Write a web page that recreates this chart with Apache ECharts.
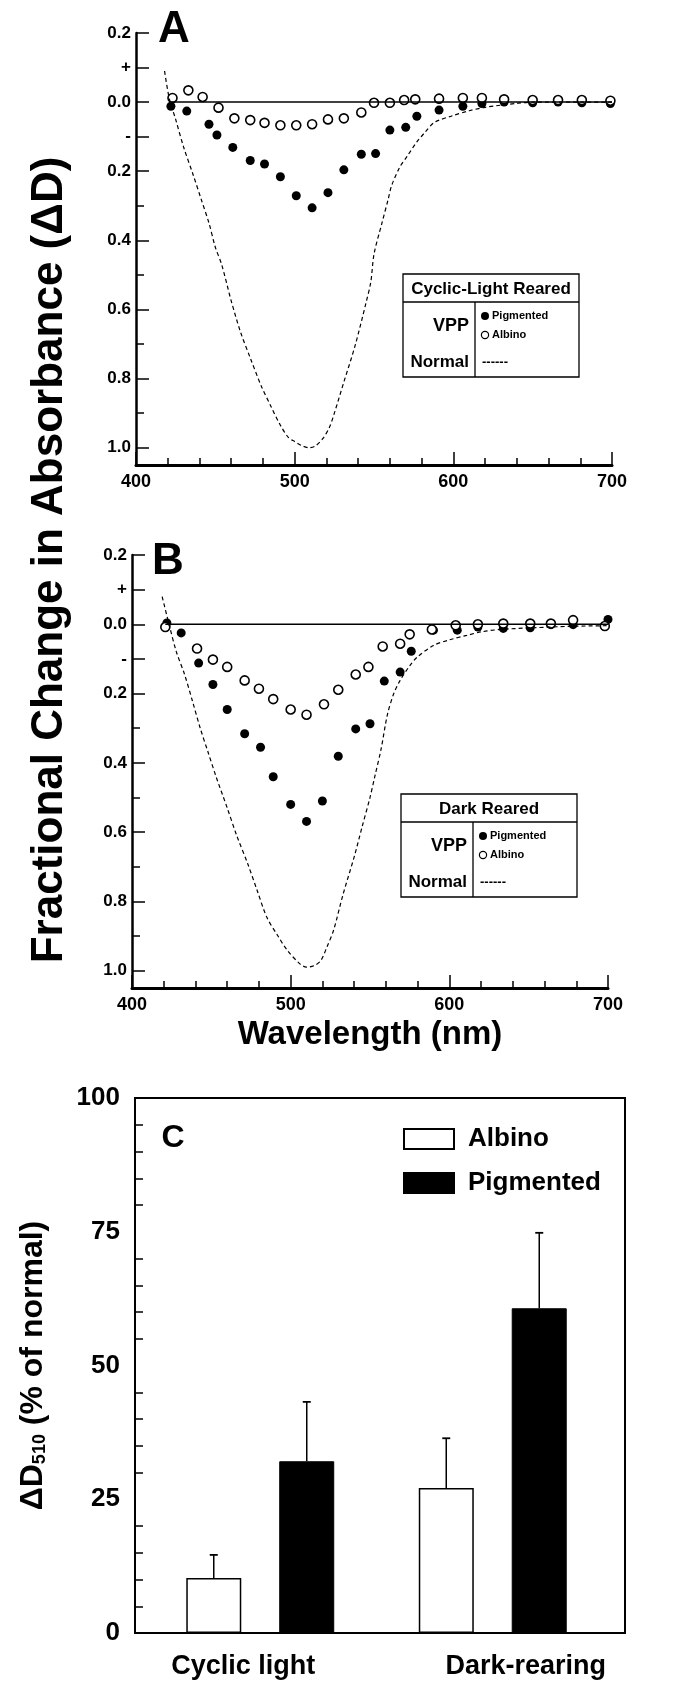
<!DOCTYPE html>
<html>
<head>
<meta charset="utf-8">
<script src="https://cdn.jsdelivr.net/npm/echarts@6/dist/echarts.min.js"></script>
<style>
  html, body { margin: 0; padding: 0; background: #fff; }
  #chart { width: 677px; height: 1682px; }
</style>
</head>
<body>
<div id="chart"></div>
<script>
// ---- data ----
// panel A: cyclic-light reared, [wavelength nm, fractional change]
const normalA = [[418, -0.09], [421, -0.01], [425, 0.05], [430, 0.13], [436, 0.21], [441, 0.28], [446, 0.35], [450, 0.42],
    [454, 0.47], [460, 0.575], [466, 0.667], [472, 0.74], [479, 0.822], [485, 0.88], [491, 0.935], [496, 0.97], [500, 0.982],
    [505, 0.995], [509, 1.0], [513, 0.995], [518, 0.972], [522, 0.94], [525, 0.9], [531, 0.81], [538, 0.706], [545, 0.58],
    [548, 0.52], [550, 0.44], [555, 0.35], [559, 0.28], [561, 0.243], [566, 0.19], [571, 0.156], [577, 0.115], [582, 0.088],
    [588, 0.059], [599, 0.04], [610, 0.025], [620, 0.015], [641, 0.003], [651, 0], [700, 0]]
const pigA = [[422, 0.012], [432, 0.026], [446, 0.064], [451, 0.095], [461, 0.131], [472, 0.169], [481, 0.179], [491, 0.216],
    [501, 0.271], [511, 0.306], [521, 0.262], [531, 0.196], [542, 0.151], [551, 0.149], [560, 0.081], [570, 0.073],
    [577, 0.041], [591, 0.023], [606, 0.012], [618, 0.004], [632, 0], [650, 0.002], [666, 0], [681, 0.002], [699, 0.004]]
const albA = [[423, -0.012], [433, -0.034], [442, -0.015], [452, 0.016], [462, 0.047], [472, 0.052], [481, 0.06], [491, 0.067],
    [501, 0.067], [511, 0.064], [521, 0.05], [531, 0.047], [542, 0.03], [550, 0.002], [560, 0.002], [569, -0.006],
    [576, -0.008], [591, -0.01], [606, -0.012], [618, -0.012], [632, -0.008], [650, -0.006], [666, -0.006], [681, -0.006], [699, -0.004]]

// panel B: dark reared
const normalB = [[419, -0.08], [423.5, 0.003], [428, 0.08], [433, 0.143], [438, 0.22], [443, 0.3], [448, 0.37], [453, 0.44],
    [460, 0.53], [466, 0.61], [473, 0.692], [479, 0.77], [485, 0.846], [492, 0.9], [498, 0.942], [506, 0.981], [510, 0.99],
    [515, 0.985], [519, 0.971], [523, 0.93], [527, 0.884], [533, 0.78], [540, 0.672], [545, 0.585], [550, 0.5], [553, 0.44],
    [557, 0.36], [561, 0.26], [565, 0.2], [569, 0.162], [575, 0.12], [580, 0.094], [590, 0.061], [600, 0.045], [611, 0.032],
    [620, 0.022], [632, 0.015], [653, 0.01], [676, 0.006], [700, 0.004]]
const pigB = [[422, -0.004], [431, 0.025], [442, 0.112], [451, 0.174], [460, 0.246], [471, 0.316], [481, 0.355], [489, 0.44],
    [500, 0.52], [510, 0.569], [520, 0.51], [530, 0.381], [541, 0.302], [550, 0.287], [559, 0.164], [569, 0.138],
    [576, 0.078], [590, 0.017], [605, 0.017], [618, 0.008], [634, 0.012], [651, 0.01], [664, 0.001], [678, 0.001], [700, -0.014]]
const albB = [[421, 0.008], [441, 0.07], [451, 0.102], [460, 0.123], [471, 0.162], [480, 0.186], [489, 0.216], [500, 0.246],
    [510, 0.261], [521, 0.231], [530, 0.189], [541, 0.145], [549, 0.123], [558, 0.064], [569, 0.056], [575, 0.029],
    [589, 0.015], [604, 0.003], [618, 0], [634, -0.002], [651, -0.002], [664, -0.002], [678, -0.012], [698, 0.005]]

// zero reference line
const baseline = [[421, 0], [700, 0]]

// tick labels of the absorbance axes (top "0.2" is the positive side)
const yTickVals = [-0.2, -0.1, 0, 0.1, 0.2, 0.4, 0.6, 0.8, 1.0]
const yTickText = ['0.2', '+', '0.0', '-', '0.2', '0.4', '0.6', '0.8', '1.0']
const yMinorVals = [0.3, 0.5, 0.7, 0.9]

// panel C
const groups = ['Cyclic light', 'Dark-rearing']
const albino = [10.3, 27.1]
const albinoErr = [4.3, 9.3]
const pigmented = [32.1, 60.7]
const pigmentedErr = [11.1, 14.1]

// ---- chart ----
const FONT = 'Liberation Sans, Arial, sans-serif'
const BAR_W = 55
const BAR_GAP = 38

const myChart = echarts.init(document.getElementById('chart'))

function tickLabel(v) {
    const i = yTickVals.findIndex(t => Math.abs(t - v) < 1e-6)
    return i < 0 ? '' : yTickText[i]
}

function wavelengthAxis(gridIndex, extra) {
    return Object.assign({
        gridIndex: gridIndex,
        type: 'value',
        min: 400,
        max: 700,
        interval: 100,
        axisLine: { onZero: false, lineStyle: { color: '#000', width: 3 } },
        axisTick: { inside: true, length: 13, lineStyle: { color: '#000', width: 1.5 } },
        minorTick: { show: true, splitNumber: 5, length: 7, lineStyle: { color: '#000', width: 1.5 } },
        axisLabel: { color: '#000', fontSize: 18, fontWeight: 'bold', fontFamily: FONT, margin: 8 },
        splitLine: { show: false },
        minorSplitLine: { show: false }
    }, extra || {})
}

function absorbAxis(gridIndex) {
    return {
        gridIndex: gridIndex,
        type: 'value',
        inverse: true,
        min: -0.2,
        max: 1.05,
        axisLine: { onZero: false, lineStyle: { color: '#000', width: 2.5 } },
        axisTick: { inside: true, length: 13, customValues: yTickVals, lineStyle: { color: '#000', width: 1.5 } },
        axisLabel: {
            customValues: yTickVals, formatter: tickLabel, color: '#000',
            fontSize: 17, fontWeight: 'bold', fontFamily: FONT, margin: 5
        },
        splitLine: { show: false }
    }
}

function absorbMinorAxis(gridIndex) {
    return {
        gridIndex: gridIndex,
        type: 'value',
        inverse: true,
        min: -0.2,
        max: 1.05,
        position: 'left',
        axisLine: { show: false, onZero: false },
        axisTick: { inside: true, length: 8, customValues: yMinorVals, lineStyle: { color: '#000', width: 1.5 } },
        axisLabel: { show: false },
        splitLine: { show: false }
    }
}

function spectraSeries(tag, xi, yi, normal, pig, alb) {
    return [
        {
            name: 'Normal ' + tag, type: 'line', xAxisIndex: xi, yAxisIndex: yi,
            data: normal, smooth: 0.3, symbol: 'none', silent: true,
            lineStyle: { color: '#000', width: 1.2, type: [4, 3] }
        },
        {
            name: 'Baseline ' + tag, type: 'line', xAxisIndex: xi, yAxisIndex: yi,
            data: baseline, symbol: 'none', silent: true,
            lineStyle: { color: '#000', width: 1.5 }
        },
        {
            name: 'VPP pigmented ' + tag, type: 'scatter', xAxisIndex: xi, yAxisIndex: yi,
            data: pig, symbol: 'circle', symbolSize: 9,
            itemStyle: { color: '#000', opacity: 1 }
        },
        {
            name: 'VPP albino ' + tag, type: 'scatter', xAxisIndex: xi, yAxisIndex: yi,
            data: alb, symbol: 'circle', symbolSize: 9,
            itemStyle: { color: '#fff', borderColor: '#000', borderWidth: 1.6, opacity: 1 }
        }
    ]
}

// the small boxed key inside panels A and B
function keyBox(x0, y0, title) {
    const bold = s => 'bold ' + s + 'px ' + FONT
    return {
        type: 'group', x: x0, y: y0, z: 50,
        children: [
            { type: 'rect', shape: { x: 0, y: 0, width: 176, height: 103 }, style: { fill: '#fff', stroke: '#000', lineWidth: 1.3 } },
            { type: 'line', shape: { x1: 0, y1: 28, x2: 176, y2: 28 }, style: { stroke: '#000', lineWidth: 1.3 } },
            { type: 'line', shape: { x1: 72, y1: 28, x2: 72, y2: 103 }, style: { stroke: '#000', lineWidth: 1.3 } },
            { type: 'text', x: 88, y: 15, style: { text: title, font: bold(17), fill: '#000', align: 'center', verticalAlign: 'middle' } },
            { type: 'text', x: 66, y: 52, style: { text: 'VPP', font: bold(18), fill: '#000', align: 'right', verticalAlign: 'middle' } },
            { type: 'text', x: 66, y: 88, style: { text: 'Normal', font: bold(17), fill: '#000', align: 'right', verticalAlign: 'middle' } },
            { type: 'circle', shape: { cx: 82, cy: 42, r: 4 }, style: { fill: '#000' } },
            { type: 'circle', shape: { cx: 82, cy: 61, r: 3.6 }, style: { fill: '#fff', stroke: '#000', lineWidth: 1.2 } },
            { type: 'text', x: 89, y: 42, style: { text: 'Pigmented', font: bold(11), fill: '#000', align: 'left', verticalAlign: 'middle' } },
            { type: 'text', x: 89, y: 61, style: { text: 'Albino', font: bold(11), fill: '#000', align: 'left', verticalAlign: 'middle' } },
            { type: 'text', x: 79, y: 88, style: { text: '------', font: bold(13), fill: '#000', align: 'left', verticalAlign: 'middle' } }
        ]
    }
}

function panelLetter(letter, x, y, size) {
    return {
        type: 'text', x: x, y: y, z: 50,
        style: { text: letter, font: 'bold ' + size + 'px ' + FONT, fill: '#000', align: 'center', verticalAlign: 'middle' }
    }
}

// error bars on top of the panel C bars
function errorSeries(name, values, errs, shift) {
    return {
        name: name + ' error', type: 'custom', xAxisIndex: 2, yAxisIndex: 4, z: 5,
        data: values.map((v, i) => [i, v, errs[i]]),
        encode: { x: 0, y: 1 },
        renderItem: function (params, api) {
            const base = api.coord([api.value(0), api.value(1)])
            const top = api.coord([api.value(0), api.value(1) + api.value(2)])
            const x = base[0] + shift
            return {
                type: 'group',
                children: [
                    { type: 'line', shape: { x1: x, y1: base[1], x2: x, y2: top[1] }, style: { stroke: '#000', lineWidth: 1.5 } },
                    { type: 'line', shape: { x1: x - 4, y1: top[1], x2: x + 4, y2: top[1] }, style: { stroke: '#000', lineWidth: 1.8 } }
                ]
            }
        }
    }
}

const option = {
    backgroundColor: '#fff',
    animation: false,
    grid: [
        { left: 136, top: 33, width: 476, height: 432 },
        { left: 132, top: 555, width: 476, height: 433 },
        { left: 144, top: 1098, width: 465, height: 535 },
        { left: 135, top: 1098, width: 490, height: 535, show: true, borderColor: '#000', borderWidth: 2, backgroundColor: 'transparent' }
    ],
    xAxis: [
        wavelengthAxis(0),
        wavelengthAxis(1, {
            name: 'Wavelength (nm)', nameLocation: 'middle', nameGap: 30,
            nameTextStyle: { color: '#000', fontSize: 33, fontWeight: 'bold', fontFamily: FONT }
        }),
        {
            gridIndex: 2,
            type: 'category',
            data: groups,
            axisLine: { show: false },
            axisTick: { show: false },
            axisLabel: {
                margin: 20,
                formatter: v => (v === groups[0] ? '{l|' + v + '}' : '{r|' + v + '}'),
                rich: {
                    l: { color: '#000', fontSize: 27, fontWeight: 'bold', fontFamily: FONT, padding: [0, 34, 0, 0] },
                    r: { color: '#000', fontSize: 27, fontWeight: 'bold', fontFamily: FONT, padding: [0, 0, 0, 66] }
                }
            }
        },
        { gridIndex: 3, type: 'value', min: 0, max: 1, show: false }
    ],
    yAxis: [
        absorbAxis(0),
        absorbMinorAxis(0),
        absorbAxis(1),
        absorbMinorAxis(1),
        {
            gridIndex: 2,
            type: 'value',
            min: 0,
            max: 100,
            interval: 25,
            offset: 9,
            axisLine: { lineStyle: { color: '#000', width: 2 } },
            axisTick: { inside: true, length: 15, lineStyle: { color: '#000', width: 1.5 } },
            minorTick: { show: true, splitNumber: 5, length: 8, lineStyle: { color: '#000', width: 1.5 } },
            axisLabel: { color: '#000', fontSize: 26, fontWeight: 'bold', fontFamily: FONT, margin: 15 },
            splitLine: { show: false },
            minorSplitLine: { show: false },
            name: '{a|ΔD}{s|510}{a| (% of normal)}',
            nameLocation: 'middle',
            nameRotate: 90,
            nameGap: 86,
            nameTextStyle: {
                rich: {
                    a: { color: '#000', fontSize: 32, fontWeight: 'bold', fontFamily: FONT },
                    s: { color: '#000', fontSize: 18, fontWeight: 'bold', fontFamily: FONT, padding: [14, 0, 0, 0] }
                }
            }
        },
        { gridIndex: 3, type: 'value', min: 0, max: 1, show: false }
    ],
    legend: {
        data: ['Albino', 'Pigmented'],
        orient: 'vertical',
        left: 403,
        top: 1126,
        padding: 0,
        icon: 'rect',
        itemWidth: 50,
        itemHeight: 20,
        itemGap: 18,
        selectedMode: false,
        textStyle: { color: '#000', fontSize: 26, fontWeight: 'bold', fontFamily: FONT, lineHeight: 26, padding: [0, 0, 0, 9] }
    },
    graphic: [
        {
            type: 'text', x: 50, y: 560, rotation: Math.PI / 2,
            style: {
                text: 'Fractional Change in Absorbance (ΔD)', font: 'bold 44px ' + FONT, fill: '#000',
                align: 'center', verticalAlign: 'middle'
            }
        },
        panelLetter('A', 174, 30, 44),
        panelLetter('B', 168, 562, 44),
        panelLetter('C', 173, 1138, 32),
        keyBox(403, 274, 'Cyclic-Light Reared'),
        keyBox(401, 794, 'Dark Reared')
    ],
    series: [
        ...spectraSeries('A', 0, 0, normalA, pigA, albA),
        ...spectraSeries('B', 1, 2, normalB, pigB, albB),
        {
            name: 'Albino', type: 'bar', xAxisIndex: 2, yAxisIndex: 4,
            data: albino, barWidth: BAR_W, barGap: (BAR_GAP / BAR_W * 100).toFixed(0) + '%',
            itemStyle: { color: '#fff', borderColor: '#000', borderWidth: 1.5 }
        },
        {
            name: 'Pigmented', type: 'bar', xAxisIndex: 2, yAxisIndex: 4,
            data: pigmented, barWidth: BAR_W,
            itemStyle: { color: '#000', borderColor: '#000', borderWidth: 1 }
        },
        errorSeries('Albino', albino, albinoErr, -(BAR_W + BAR_GAP) / 2),
        errorSeries('Pigmented', pigmented, pigmentedErr, (BAR_W + BAR_GAP) / 2)
    ]
}

myChart.setOption(option)
window.addEventListener('resize', () => {
    myChart.resize()
})
</script>
</body>
</html>
